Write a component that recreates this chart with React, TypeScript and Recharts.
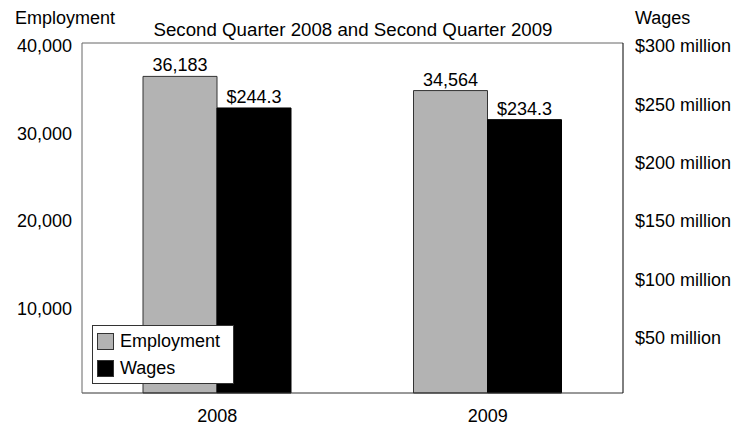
import { BarChart, Bar, XAxis, YAxis, LabelList, ReferenceLine } from "recharts";

const years = ["2008", "2009"];
const employment = [36183, 34564];
const wages = [244.3, 234.3]; // $ millions
const leftTicks = [10000, 20000, 30000, 40000];
const rightTicks = [50, 100, 150, 200, 250, 300];

const data = years.map((year, i) => ({ year, employment: employment[i], wages: wages[i] }));

const FONT = "'Liberation Sans', Arial, sans-serif";
const FS = 18;

const fmtNum = (v: number) => v.toLocaleString("en-US");
const fmtWage = (v: number) => `$${v.toFixed(1)}`;
const fmtMillion = (v: number) => `$${v} million`;

function LegendBox() {
  const items = [
    { label: "Employment", fill: "#b3b3b3" },
    { label: "Wages", fill: "#000" },
  ];
  return (
    <div
      style={{
        position: "absolute",
        left: 92,
        top: 325,
        width: 140,
        height: 57,
        border: "1px solid #333",
        background: "#fff",
        fontFamily: FONT,
        fontSize: FS,
        color: "#000",
      }}
    >
      {items.map((it, i) => (
        <div key={it.label} style={{ position: "absolute", left: 4, top: 6 + i * 27, display: "flex", alignItems: "center" }}>
          <span style={{ width: 15, height: 15, background: it.fill, border: "1px solid #333", display: "inline-block" }} />
          <span style={{ marginLeft: 6, lineHeight: "18px" }}>{it.label}</span>
        </div>
      ))}
    </div>
  );
}

export default function App() {
  return (
    <div style={{ position: "absolute", left: 0, top: 0, width: 743, height: 426, background: "#fff" }}>
      <BarChart
        width={743}
        height={426}
        data={data}
        margin={{ top: 43, right: 0, bottom: 0, left: 0 }}
        barGap={0}
        style={{ fontFamily: FONT }}
      >
        <XAxis
          dataKey="year"
          height={33}
          tickLine={false}
          axisLine={{ stroke: "#333" }}
          tickMargin={10}
          tick={{ fill: "#000", fontSize: FS }}
        />
        <YAxis
          yAxisId="left"
          orientation="left"
          width={82}
          domain={[0, 40000]}
          ticks={leftTicks}
          tickFormatter={fmtNum}
          tickLine={false}
          axisLine={{ stroke: "#666" }}
          tickMargin={4}
          tick={{ fill: "#000", fontSize: FS, dy: 3 }}
        />
        <YAxis
          yAxisId="right"
          orientation="right"
          width={120}
          domain={[0, 300]}
          ticks={rightTicks}
          tickFormatter={fmtMillion}
          tickLine={false}
          axisLine={{ stroke: "#000" }}
          tickMargin={6}
          tick={{ fill: "#000", fontSize: FS, dy: 3, textAnchor: "start" }}
        />
        <ReferenceLine yAxisId="left" y={40000} stroke="#666" />
        <Bar yAxisId="left" dataKey="employment" barSize={74} fill="#b3b3b3" stroke="#333" strokeWidth={1} isAnimationActive={false}>
          <LabelList dataKey="employment" position="top" formatter={fmtNum} fill="#000" fontSize={FS} offset={5} />
        </Bar>
        <Bar yAxisId="right" dataKey="wages" barSize={74} fill="#000" stroke="#000" isAnimationActive={false}>
          <LabelList dataKey="wages" position="top" formatter={fmtWage} fill="#000" fontSize={FS} offset={5} />
        </Bar>
      </BarChart>
      <LegendBox />
      <svg
        width={743}
        height={426}
        style={{ position: "absolute", left: 0, top: 0, pointerEvents: "none", fontFamily: FONT }}
      >
        <text x={15} y={24} fontSize={FS} fill="#000">Employment</text>
        <text x={635} y={24} fontSize={FS} fill="#000">Wages</text>
        <text x={353} y={36} fontSize={18.7} fill="#000" textAnchor="middle">
          Second Quarter 2008 and Second Quarter 2009
        </text>
      </svg>
    </div>
  );
}
